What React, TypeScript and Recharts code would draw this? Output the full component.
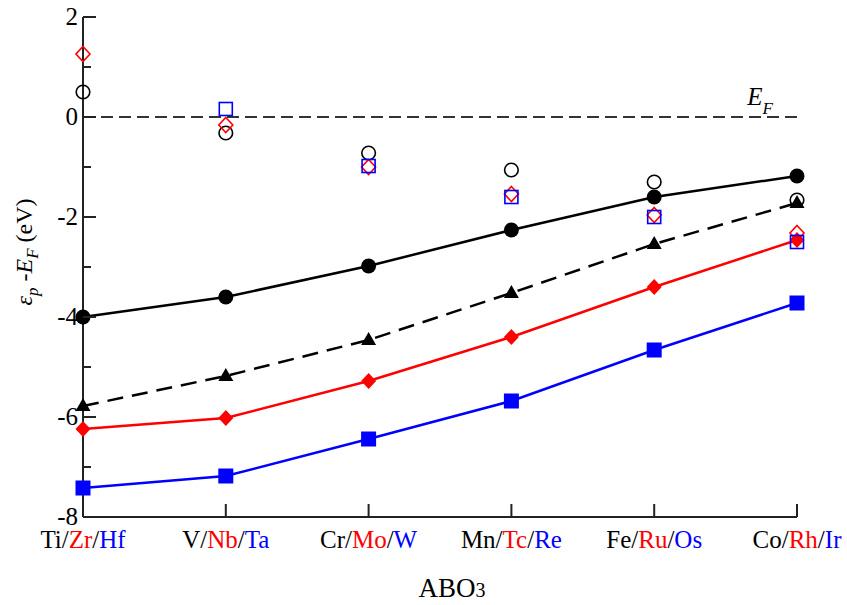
import React from 'react';
import { ComposedChart, Line, XAxis, YAxis, ReferenceLine } from 'recharts';

const elemA = ['Ti', 'V', 'Cr', 'Mn', 'Fe', 'Co'];
const elemB = ['Zr', 'Nb', 'Mo', 'Tc', 'Ru', 'Rh'];
const elemC = ['Hf', 'Ta', 'W', 'Re', 'Os', 'Ir'];

// filled symbols (lines)
const filledCircle = [-4.0, -3.6, -2.98, -2.26, -1.6, -1.18];
const filledTriangle = [-5.78, -5.18, -4.46, -3.52, -2.54, -1.72];
const filledDiamond = [-6.24, -6.02, -5.28, -4.4, -3.4, -2.46];
const filledSquare = [-7.42, -7.18, -6.44, -5.68, -4.66, -3.72];

// open symbols
const openCircle = [0.5, -0.32, -0.72, -1.06, -1.3, -1.66];
const openDiamond = [1.26, -0.16, -1.0, -1.54, -1.96, -2.32];
const openSquare = [null, 0.16, -0.98, -1.6, -2.0, -2.5];

const yTicks = [-8, -7, -6, -5, -4, -3, -2, -1, 0, 1, 2];
const xTicks = [0, 1, 2, 3, 4, 5];

const data = elemA.map((a, i) => ({
    x: i,
    fc: filledCircle[i],
    ft: filledTriangle[i],
    fd: filledDiamond[i],
    fs: filledSquare[i],
    oc: openCircle[i],
    od: openDiamond[i],
    os: openSquare[i],
}));

const FONT = '"Liberation Serif", "Times New Roman", serif';
const AXIS = '#222';

const ok = (p: any) => p.cx != null && p.cy != null && p.value != null && !isNaN(p.cy);

const CircleDot = (p: any) => ok(p) ? <circle key={p.key} cx={p.cx} cy={p.cy} r={7.5} fill="#000" /> : <g key={p.key} />;
const TriDot = (p: any) => ok(p) ? (
    <polygon key={p.key} points={`${p.cx},${p.cy - 8} ${p.cx - 7.5},${p.cy + 5} ${p.cx + 7.5},${p.cy + 5}`} fill="#000" />
) : <g key={p.key} />;
const DiaDot = (p: any) => ok(p) ? (
    <polygon key={p.key} points={`${p.cx},${p.cy - 8} ${p.cx + 7.5},${p.cy} ${p.cx},${p.cy + 8} ${p.cx - 7.5},${p.cy}`} fill="#ff0000" />
) : <g key={p.key} />;
const SqDot = (p: any) => ok(p) ? <rect key={p.key} x={p.cx - 7.5} y={p.cy - 7.5} width={15} height={15} fill="#0000ff" /> : <g key={p.key} />;

const OCircleDot = (p: any) => ok(p) ? <circle key={p.key} cx={p.cx} cy={p.cy} r={6.8} fill="none" stroke="#000" strokeWidth={1.6} /> : <g key={p.key} />;
const ODiaDot = (p: any) => ok(p) ? (
    <polygon key={p.key} points={`${p.cx},${p.cy - 7.5} ${p.cx + 7},${p.cy} ${p.cx},${p.cy + 7.5} ${p.cx - 7},${p.cy}`} fill="none" stroke="#ff0000" strokeWidth={1.6} />
) : <g key={p.key} />;
const OSqDot = (p: any) => ok(p) ? <rect key={p.key} x={p.cx - 6.5} y={p.cy - 6.5} width={13} height={13} fill="none" stroke="#0000ff" strokeWidth={1.6} /> : <g key={p.key} />;

const LeftTick = ({ x, y, payload }: any) => {
    const major = payload.value % 2 === 0;
    return (
        <g>
            <line x1={x} y1={y} x2={x + (major ? 13 : 8)} y2={y} stroke={AXIS} strokeWidth={2} />
            {major && (
                <text x={x - 5} y={y + 8} textAnchor="end" fontSize={25} fontFamily={FONT} fill="#000">
                    {payload.value}
                </text>
            )}
        </g>
    );
};

const RightTick = ({ x, y, payload }: any) => {
    const major = payload.value % 2 === 0;
    return <line x1={x} y1={y} x2={x - (major ? 13 : 8)} y2={y} stroke={AXIS} strokeWidth={2} />;
};

const BottomTick = ({ x, y, payload }: any) => {
    const i = payload.value;
    return (
        <g>
            <line x1={x} y1={y} x2={x} y2={y - 13} stroke={AXIS} strokeWidth={2} />
            <text x={x} y={y + 31} textAnchor="middle" fontSize={25} fontFamily={FONT} fill="#000">
                <tspan>{elemA[i]}/</tspan>
                <tspan fill="#ff0000">{elemB[i]}</tspan>
                <tspan>/</tspan>
                <tspan fill="#0000ff">{elemC[i]}</tspan>
            </text>
        </g>
    );
};

const TopTick = ({ x, y }: any) => <line x1={x} y1={y} x2={x} y2={y + 13} stroke={AXIS} strokeWidth={2} />;

export default function App() {
    return (
        <div style={{ position: 'absolute', left: 0, top: 0, width: 847, height: 605, background: '#fff' }}>
            <ComposedChart width={847} height={605} data={data} margin={{ top: 17, right: 50, bottom: 28, left: 0 }}>
                <XAxis xAxisId="b" dataKey="x" type="number" domain={[0, 5]} ticks={xTicks} height={60}
                    tickSize={0} tickMargin={0} tickLine={false} tick={<BottomTick />}
                    axisLine={{ stroke: AXIS, strokeWidth: 2 }} interval={0} />
                <XAxis xAxisId="t" orientation="top" dataKey="x" type="number" domain={[0, 5]} ticks={xTicks} height={0}
                    tickSize={0} tickMargin={0} tickLine={false} tick={<TopTick />}
                    axisLine={{ stroke: AXIS, strokeWidth: 2 }} interval={0} />
                <YAxis yAxisId="l" type="number" domain={[-8, 2]} ticks={yTicks} width={83}
                    tickSize={0} tickMargin={0} tickLine={false} tick={<LeftTick />}
                    axisLine={{ stroke: AXIS, strokeWidth: 2 }} interval={0} />
                <YAxis yAxisId="r" orientation="right" type="number" domain={[-8, 2]} ticks={yTicks} width={0}
                    tickSize={0} tickMargin={0} tickLine={false} tick={<RightTick />}
                    axisLine={{ stroke: AXIS, strokeWidth: 2 }} interval={0} />
                <ReferenceLine xAxisId="b" yAxisId="l" y={0} stroke="#333" strokeWidth={2} strokeDasharray="12 6" />

                <Line xAxisId="b" yAxisId="l" dataKey="fc" stroke="#000" strokeWidth={2.5} dot={CircleDot} activeDot={false} isAnimationActive={false} />
                <Line xAxisId="b" yAxisId="l" dataKey="ft" stroke="#000" strokeWidth={2.5} strokeDasharray="16 9" dot={TriDot} activeDot={false} isAnimationActive={false} />
                <Line xAxisId="b" yAxisId="l" dataKey="fd" stroke="#ff0000" strokeWidth={2.5} dot={DiaDot} activeDot={false} isAnimationActive={false} />
                <Line xAxisId="b" yAxisId="l" dataKey="fs" stroke="#0000ff" strokeWidth={2.5} dot={SqDot} activeDot={false} isAnimationActive={false} />

                <Line xAxisId="b" yAxisId="l" dataKey="oc" stroke="none" dot={OCircleDot} activeDot={false} isAnimationActive={false} />
                <Line xAxisId="b" yAxisId="l" dataKey="od" stroke="none" dot={ODiaDot} activeDot={false} isAnimationActive={false} />
                <Line xAxisId="b" yAxisId="l" dataKey="os" stroke="none" dot={OSqDot} activeDot={false} isAnimationActive={false} connectNulls={false} />
            </ComposedChart>
            <svg width={847} height={605} style={{ position: 'absolute', left: 0, top: 0, pointerEvents: 'none' }}>
                <text x={760} y={105} fontSize={25} fontFamily={FONT} fontStyle="italic" textAnchor="middle" fill="#000">
                    E<tspan fontSize={17} dy={9}>F</tspan>
                </text>
                <text x={452} y={597} fontSize={27} fontFamily={FONT} textAnchor="middle" fill="#000">
                    ABO<tspan fontSize={20}>3</tspan>
                </text>
                <text transform="translate(32,252) rotate(-90)" fontSize={24} fontFamily={FONT} textAnchor="middle" fill="#000">
                    <tspan fontStyle="italic">ε</tspan>
                    <tspan fontStyle="italic" fontSize={17} dy={6}>p</tspan>
                    <tspan dy={-6}> -</tspan>
                    <tspan fontStyle="italic">E</tspan>
                    <tspan fontStyle="italic" fontSize={17} dy={6}>F</tspan>
                    <tspan dy={-6}> (eV)</tspan>
                </text>
            </svg>
        </div>
    );
}
